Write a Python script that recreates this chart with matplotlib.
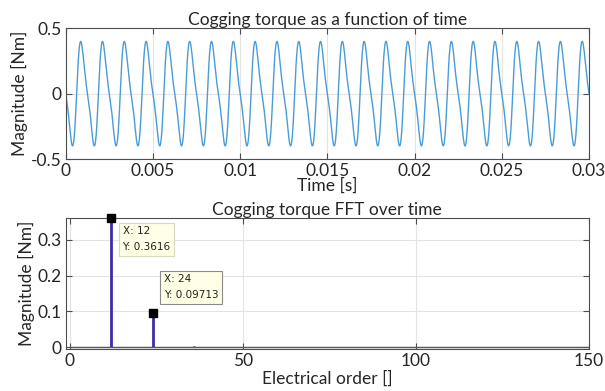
import numpy as np
import matplotlib.pyplot as plt

plt.rcParams['font.family'] = ['Lato', 'DejaVu Sans']

# harmonic content of the cogging torque (electrical order, amplitude in Nm, phase in rad)
orders = [12, 24, 36, 48, 60]
amps = [0.3616, 0.09713, 0.004, 0.002, 0.0015]
phases = [np.pi, 0.0, np.pi, 0.0, np.pi]
f_elec = 800.0 / 12  # electrical frequency [Hz]

t_end = 0.03
time_ticks = [0, 0.005, 0.01, 0.015, 0.02, 0.025, 0.03]
order_ticks = [0, 50, 100, 150]
fft_yticks = [0, 0.1, 0.2, 0.3]

# cogging torque over time, rebuilt from its harmonics
t = np.linspace(0, t_end, 3000)
torque = np.zeros_like(t)
for k, a, p in zip(orders, amps, phases):
    torque += a * np.sin(2 * np.pi * k * f_elec * t + p)

# full spectrum 0..150, zero apart from the listed orders
all_orders = np.arange(0, 151)
spectrum = np.zeros(len(all_orders))
for k, a in zip(orders, amps):
    spectrum[k] = a

fig = plt.figure(figsize=(6.05, 3.91), dpi=100)
ax1 = fig.add_axes([0.1086, 0.593, 0.865, 0.335])
ax2 = fig.add_axes([0.1086, 0.1074, 0.865, 0.3351])

edge = '#4d4d4d'
txt = '#262626'
fs = 12.5

def style(ax):
    for s in ax.spines.values():
        s.set_color(edge)
        s.set_linewidth(0.8)
    ax.tick_params(direction='in', length=4, colors=edge, labelcolor=txt,
                   labelsize=fs, top=True, right=True, pad=3)
    ax.grid(True, color='#e3e3e3', linewidth=0.8)
    ax.set_axisbelow(True)

ax1.plot(t, torque, color='#4a9cd6', linewidth=1.0)
ax1.set_xlim(0, t_end)
ax1.set_ylim(-0.5, 0.5)
ax1.set_xticks(time_ticks)
ax1.set_xticklabels(['0', '0.005', '0.01', '0.015', '0.02', '0.025', '0.03'])
ax1.set_yticks([-0.5, 0, 0.5])
ax1.set_yticklabels(['-0.5', '0', '0.5'])
style(ax1)
ax1.set_title('Cogging torque as a function of time', fontsize=fs, color=txt, pad=2)
ax1.set_xlabel('Time [s]', fontsize=fs, color=txt, labelpad=-1)
ax1.set_ylabel('Magnitude [Nm]', fontsize=fs, color=txt, labelpad=2)

ml, sl, bl = ax2.stem(all_orders, spectrum, linefmt='-', markerfmt=' ', basefmt='-')
plt.setp(sl, color='#3b2fa3', linewidth=2.0)
plt.setp(bl, color='#555555', linewidth=1.0)
ax2.set_xlim(-1.2, 150)
ax2.set_ylim(-0.005, 0.3616)
ax2.set_xticks(order_ticks)
ax2.set_yticks(fft_yticks)
ax2.set_yticklabels(['0', '0.1', '0.2', '0.3'])
style(ax2)
ax2.set_title('Cogging torque FFT over time', fontsize=fs, color=txt, pad=2)
ax2.set_xlabel('Electrical order []', fontsize=fs, color=txt, labelpad=1)
ax2.set_ylabel('Magnitude [Nm]', fontsize=fs, color=txt, labelpad=2)

# data tips on the two main harmonics
tips = [(12, 0.3616, '0.3616', (8, -6), '#d8d8c0'), (24, 0.09713, '0.09713', (8, 9), '#8a8a8a')]
for x, y, ytxt, off, bc in tips:
    ax2.plot(x, y, 's', color='black', markersize=6, clip_on=False, zorder=5)
    ax2.annotate('X: %d\nY: %s' % (x, ytxt), (x, y), xytext=off,
                 textcoords='offset points', fontsize=7.5, family='DejaVu Sans',
                 va='top' if off[1] < 0 else 'bottom', ha='left', color='#222222',
                 linespacing=1.7,
                 bbox=dict(boxstyle='square,pad=0.35', fc='#ffffe6', ec=bc, lw=0.8),
                 zorder=6)

fig.savefig('out.png', dpi=100)
